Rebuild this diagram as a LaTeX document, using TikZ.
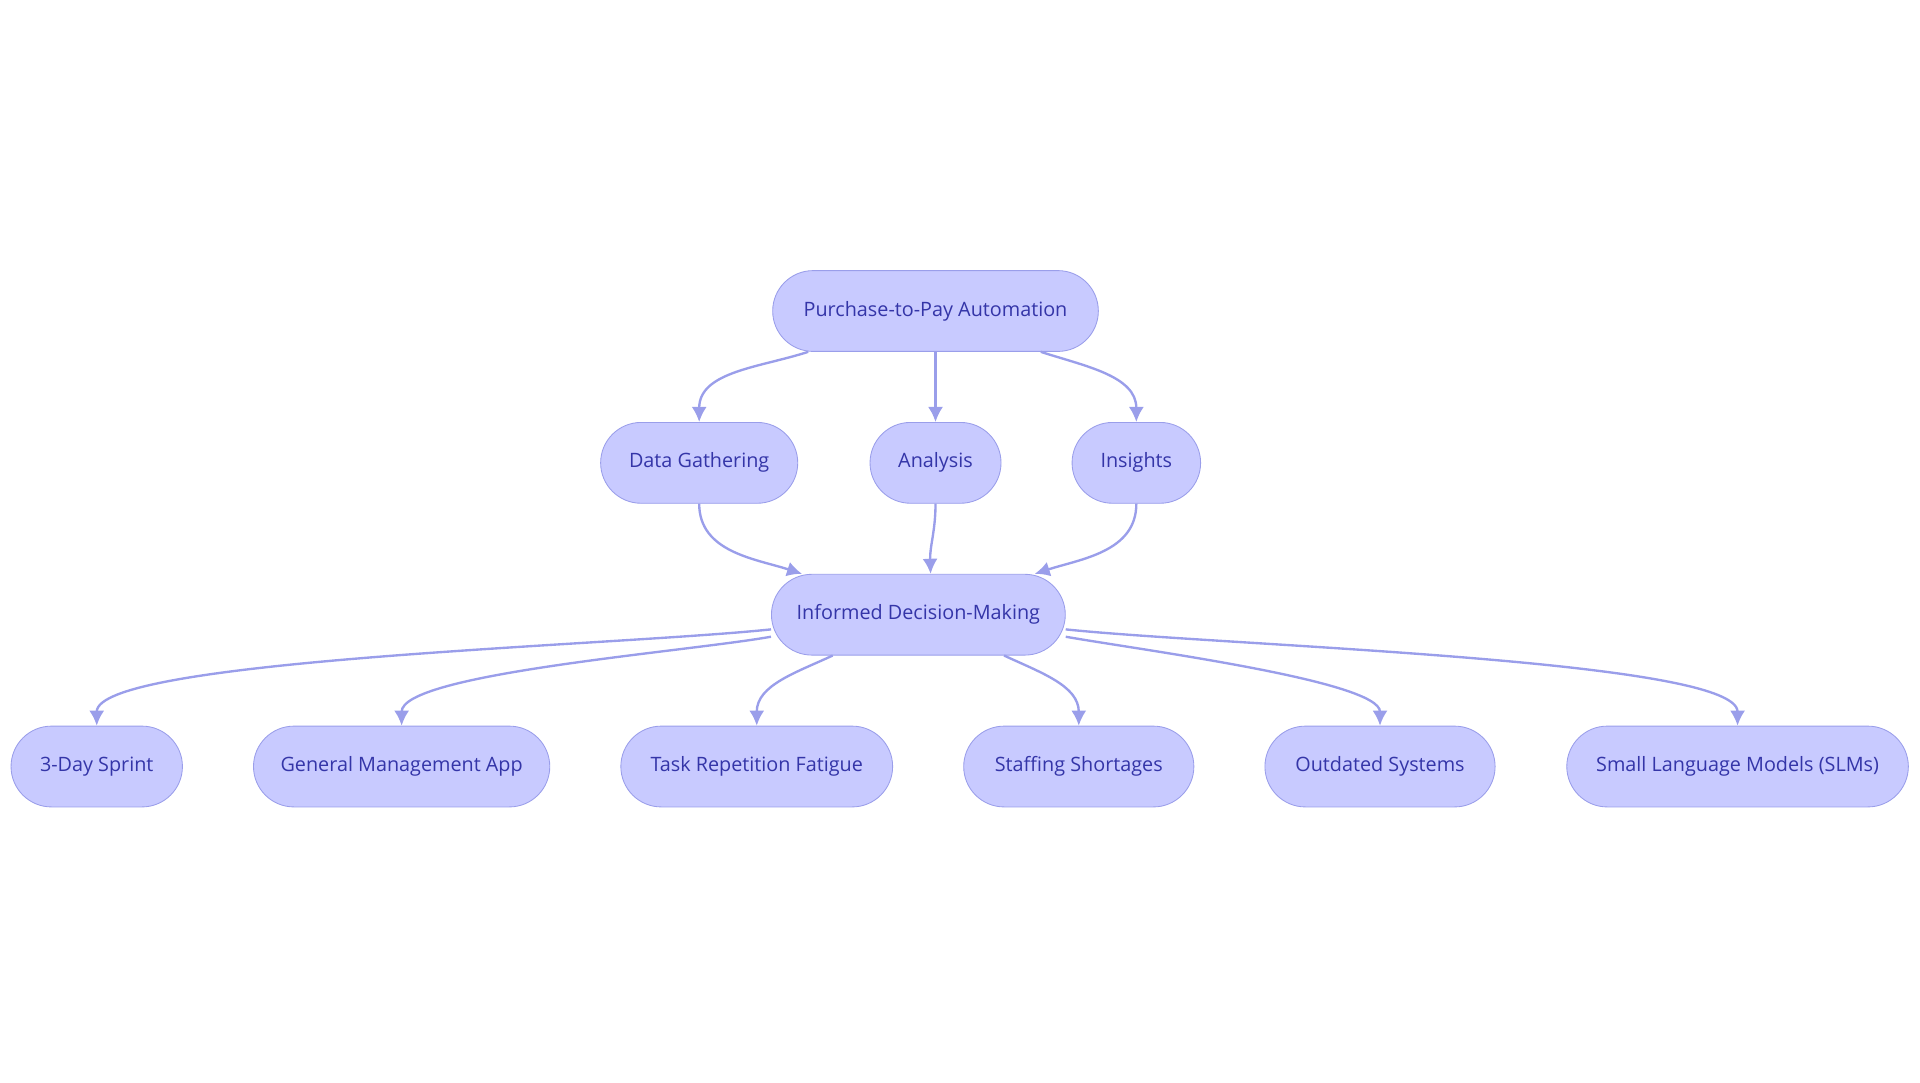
\documentclass[tikz,border=0pt]{standalone}
\usepackage{fontspec}
\setmainfont{Open Sans}
\usetikzlibrary{arrows.meta}
\definecolor{boxfill}{HTML}{C8CAFF}
\definecolor{boxline}{HTML}{9A9EEA}
\definecolor{boxtext}{HTML}{3435A8}
\tikzset{
  stepnode/.style={draw=boxline, fill=boxfill, text=boxtext, rounded corners=0.66cm,
    minimum height=1.32cm, inner xsep=0pt, font=\fontsize{9.2}{11}\selectfont},
  link/.style={draw=boxline, line width=1.1pt, -{Latex[length=7pt,width=7pt]}}
}
\begin{document}
\begin{tikzpicture}[x=0.02cm, y=-0.02cm]
\useasboundingbox (0,0) rectangle (1568,884);

\node[stepnode, minimum width=5.32cm] (p2p) at (764,254) {Purchase-to-Pay Automation};

\node[stepnode, minimum width=3.22cm] (gather) at (571,378) {Data Gathering};
\node[stepnode, minimum width=2.14cm] (analysis) at (764,378) {Analysis};
\node[stepnode, minimum width=2.10cm] (insights) at (928,378) {Insights};

\node[stepnode, minimum width=4.80cm] (idm) at (750,502) {Informed Decision-Making};

% bottom row
\foreach \name/\x/\w/\txt in {sprint/79/2.80/3-Day Sprint,
    genapp/328/4.84/General Management App,
    fatigue/618/4.44/Task Repetition Fatigue,
    staff/881/3.76/Staffing Shortages,
    outdated/1127/3.76/Outdated Systems,
    slm/1419/5.58/Small Language Models (SLMs)}
  \node[stepnode, minimum width=\w cm] (\name) at (\x,626) {\txt};

\draw[link] ([xshift=-2.08cm]p2p.south) to[out=198,in=90] (gather.north);
\draw[link] (p2p.south) -- (analysis.north);
\draw[link] ([xshift=1.72cm]p2p.south) to[out=-18,in=90] (insights.north);

\draw[link] (gather.south) to[out=-90,in=162] ([xshift=-1.9cm]idm.north);
\draw[link] (analysis.south) to[out=-90,in=92] ([xshift=0.2cm]idm.north);
\draw[link] (insights.south) to[out=-90,in=18] ([xshift=1.9cm]idm.north);

\draw[link] ([yshift=-0.24cm]idm.west) to[out=186,in=90,out looseness=0.6,in looseness=0.25] (sprint.north);
\draw[link] ([yshift=-0.36cm]idm.west) to[out=190,in=90,out looseness=0.6,in looseness=0.35] (genapp.north);
\draw[link] ([xshift=-1.4cm]idm.south) to[out=-155,in=90] (fatigue.north);
\draw[link] ([xshift=1.4cm]idm.south) to[out=-25,in=90] (staff.north);
\draw[link] ([yshift=-0.36cm]idm.east) to[out=-10,in=90,out looseness=0.6,in looseness=0.35] (outdated.north);
\draw[link] ([yshift=-0.24cm]idm.east) to[out=-6,in=90,out looseness=0.6,in looseness=0.25] (slm.north);
\end{tikzpicture}
\end{document}
